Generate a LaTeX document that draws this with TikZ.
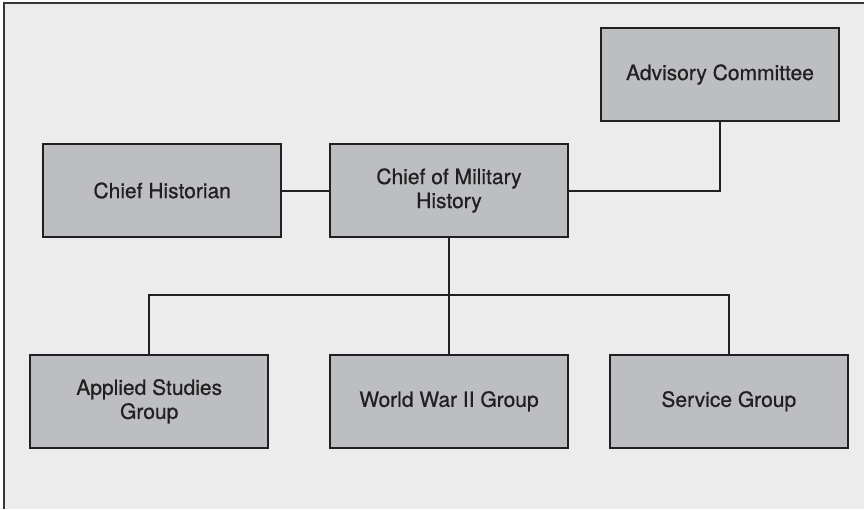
\documentclass[tikz,border=0pt]{standalone}
\usepackage{fontspec}
\setmainfont{TeX Gyre Heros}[FakeBold=0.6]
\usetikzlibrary{positioning}

\definecolor{boxgray}{HTML}{BDBEC1}
\definecolor{bggray}{HTML}{ECECEC}
\definecolor{ink}{HTML}{231F20}

\tikzset{
    office/.style={draw=ink, fill=boxgray, line width=1.8pt, minimum width=238pt, minimum height=93pt,
        align=center, text=ink, font=\fontsize{21}{24}\selectfont},
    link/.style={draw=ink, line width=2pt}
}

\begin{document}
\begin{tikzpicture}[x=1pt,y=-1pt]
        \useasboundingbox (0,0) rectangle (864,509);
        \fill[bggray] (4,3) rectangle (864,509);
        \draw[ink!90, line width=1.2pt] (4,509) -- (4,3) -- (864,3);

        \node[office] (chief) at (449,190.5) {Chief of Military\\History};
        \node[office] (hist) [left=47pt of chief] {Chief Historian};
        \node[office] (adv) at (720,74.5) {Advisory Committee};
        \node[office] (wwii) [below=116pt of chief] {World War II Group};
        \node[office] (appl) [left=60pt of wwii] {Applied Studies\\Group};
        \node[office] (serv) [right=40pt of wwii] {Service Group};

        \coordinate (bus) at (449,295);
        \draw[link] (hist) -- (chief);
        \draw[link] (chief.east) -| (adv.south);
        \draw[link] (chief) -- (wwii);
        \draw[link] (appl.north) |- (bus) -| (serv.north);
    \end{tikzpicture}
\end{document}
